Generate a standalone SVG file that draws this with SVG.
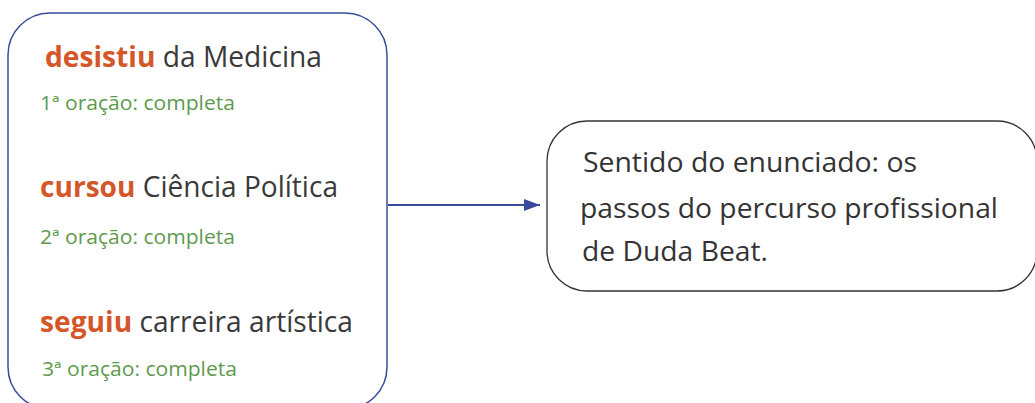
<svg xmlns="http://www.w3.org/2000/svg" width="1035" height="403" viewBox="0 0 1035 403">
<defs>
<style>
.main{font-family:"Open Sans","Noto Sans",sans-serif;font-size:29px;fill:#3a3a3a}
.main2{font-family:"Open Sans","Noto Sans",sans-serif;font-size:28px;fill:#333333}
.verb{font-weight:bold;fill:#d4572a}
.sub{font-family:"Open Sans","Noto Sans",sans-serif;font-size:19.5px;fill:#5e9a4e}
.box{fill:#ffffff;stroke:#3b4b9b;stroke-width:1.5}
.box2{fill:#ffffff;stroke:#333333;stroke-width:1.3}
.conn{stroke:#3b4b9b;stroke-width:2;fill:none}
</style>
<marker id="ah" viewBox="0 0 16 12" refX="16" refY="6" markerWidth="16" markerHeight="12" markerUnits="userSpaceOnUse" orient="auto">
<path d="M0,0 L16,6 L0,12 z" fill="#3b4b9b"/>
</marker>
</defs>
<rect width="1035" height="403" fill="#ffffff"/>
<g id="clauses">
<rect class="box" x="8" y="13" width="379" height="396" rx="42"/>
<text class="main" x="45" y="67" textLength="277" lengthAdjust="spacingAndGlyphs"><tspan class="verb">desistiu</tspan> da Medicina</text>
<text class="sub" x="40" y="110" textLength="195" lengthAdjust="spacingAndGlyphs">1ª oração: completa</text>
<text class="main" x="40" y="197" textLength="298" lengthAdjust="spacingAndGlyphs"><tspan class="verb">cursou</tspan> Ciência Política</text>
<text class="sub" x="40" y="244" textLength="195" lengthAdjust="spacingAndGlyphs">2ª oração: completa</text>
<text class="main" x="40" y="332" textLength="313" lengthAdjust="spacingAndGlyphs"><tspan class="verb">seguiu</tspan> carreira artística</text>
<text class="sub" x="42" y="376" textLength="195" lengthAdjust="spacingAndGlyphs">3ª oração: completa</text>
</g>
<g id="connectors">
<line class="conn" x1="388" y1="205" x2="540" y2="205" marker-end="url(#ah)"/>
</g>
<g id="meaning">
<rect class="box2" x="547" y="121" width="490" height="170" rx="40"/>
<text class="main2" x="583" y="172" textLength="334" lengthAdjust="spacingAndGlyphs">Sentido do enunciado: os</text>
<text class="main2" x="580" y="218" textLength="418" lengthAdjust="spacingAndGlyphs">passos do percurso profissional</text>
<text class="main2" x="582" y="261" textLength="186" lengthAdjust="spacingAndGlyphs">de Duda Beat.</text>
</g>
</svg>
